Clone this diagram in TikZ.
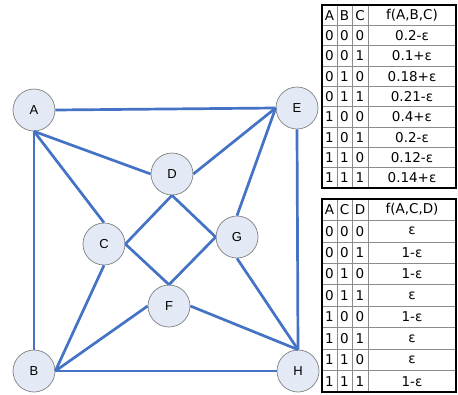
\documentclass[tikz,border=0pt]{standalone}
\usepackage{fontspec}
\setmainfont{DejaVu Sans}
\newfontfamily\vertfont{Liberation Sans}
\definecolor{edgeblue}{HTML}{4472C4}
\definecolor{vertfill}{HTML}{E4EAF5}
\definecolor{vertline}{HTML}{7F7F7F}
\definecolor{gridgray}{HTML}{8C8C8C}
\begin{document}
\begin{tikzpicture}[x=1pt,y=-1pt,
  vert/.style={circle,draw=vertline,line width=0.7pt,fill=vertfill,
    minimum size=42pt,inner sep=0pt,font=\vertfont\fontsize{13}{13}\selectfont},
  link/.style={draw=edgeblue,line width=2.7pt},
  cell/.style={font=\fontsize{13.5}{13.5}\selectfont,inner sep=0pt,anchor=center},
  grid/.style={draw=gridgray,line width=0.6pt},
  frame/.style={draw=black,line width=1.1pt}]
\useasboundingbox (0,0) rectangle (458,394);

% vertices
\node[vert] (A) at (34,110) {A};
\node[vert] (E) at (297,108) {E};
\node[vert] (D) at (172,174) {D};
\node[vert] (C) at (104,244) {C};
\node[vert] (G) at (237,237) {G};
\node[vert] (F) at (169,306) {F};
\node[vert] (B) at (34,371) {B};
\node[vert] (H) at (298,371) {H};

% edges
\draw[link] (A.east) -- (E.west);
\draw[link] (A.south) -- (D.west);
\draw[link] (A.south) -- (C.north);
\draw[link] (A.south) -- (B.north);
\draw[link] (E.west) -- (D.east);
\draw[link] (E.west) -- (G.north);
\draw[link] (E.south) -- (H.north);
\draw[link] (D.south) -- (C.east);
\draw[link] (D.south) -- (G.west);
\draw[link] (C.east) -- (F.north);
\draw[link] (C.south) -- (B.east);
\draw[link] (G.west) -- (F.north);
\draw[link] (G.south) -- (H.north);
\draw[link] (F.west) -- (B.east);
\draw[link] (F.east) -- (H.north);
\draw[link] (B.east) -- (H.west);

% column centres
\def\ca{329.5}\def\cb{344.5}\def\cc{360}\def\cf{412}

% table f(A,B,C)
\begin{scope}
  \def\ytop{5}\def\rh{20.33}
  \foreach \k in {1,...,8} \draw[grid] (322,\ytop+\k*\rh) -- (456,\ytop+\k*\rh);
  \foreach \xx in {337,352,368} \draw[grid] (\xx,\ytop) -- (\xx,\ytop+9*\rh);
  \draw[frame] (322,\ytop) rectangle (456,\ytop+9*\rh);
  \node[cell] (t1ha) at (\ca,\ytop+0.5*\rh) {A};
  \node[cell] (t1hb) at (\cb,\ytop+0.5*\rh) {B};
  \node[cell] (t1hc) at (\cc,\ytop+0.5*\rh) {C};
  \node[cell] (t1hf) at (\cf,\ytop+0.5*\rh) {f(A,B,C)};
  \foreach \a/\b/\c/\f [count=\i] in {0/0/0/{0.2-ε},0/0/1/{0.1+ε},0/1/0/{0.18+ε},
      0/1/1/{0.21-ε},1/0/0/{0.4+ε},1/0/1/{0.2-ε},1/1/0/{0.12-ε},1/1/1/{0.14+ε}}{
    \node[cell] (t1a\i) at (\ca,\ytop+\i*\rh+0.5*\rh) {\a};
    \node[cell] (t1b\i) at (\cb,\ytop+\i*\rh+0.5*\rh) {\b};
    \node[cell] (t1c\i) at (\cc,\ytop+\i*\rh+0.5*\rh) {\c};
    \node[cell] (t1f\i) at (\cf,\ytop+\i*\rh+0.5*\rh) {\f};
  }
\end{scope}

% table f(A,C,D)
\begin{scope}
  \def\ytop{199}\def\rh{21.44}
  \foreach \k in {1,...,8} \draw[grid] (322,\ytop+\k*\rh) -- (456,\ytop+\k*\rh);
  \foreach \xx in {337,352,368} \draw[grid] (\xx,\ytop) -- (\xx,\ytop+9*\rh);
  \draw[frame] (322,\ytop) rectangle (456,\ytop+9*\rh);
  \node[cell] (t2ha) at (\ca,\ytop+0.5*\rh) {A};
  \node[cell] (t2hc) at (\cb,\ytop+0.5*\rh) {C};
  \node[cell] (t2hd) at (\cc,\ytop+0.5*\rh) {D};
  \node[cell] (t2hf) at (\cf,\ytop+0.5*\rh) {f(A,C,D)};
  \foreach \a/\c/\d/\f [count=\i] in {0/0/0/ε,0/0/1/{1-ε},0/1/0/{1-ε},0/1/1/ε,
      1/0/0/{1-ε},1/0/1/ε,1/1/0/ε,1/1/1/{1-ε}}{
    \node[cell] (t2a\i) at (\ca,\ytop+\i*\rh+0.5*\rh) {\a};
    \node[cell] (t2c\i) at (\cb,\ytop+\i*\rh+0.5*\rh) {\c};
    \node[cell] (t2d\i) at (\cc,\ytop+\i*\rh+0.5*\rh) {\d};
    \node[cell] (t2f\i) at (\cf,\ytop+\i*\rh+0.5*\rh) {\f};
  }
\end{scope}
\end{tikzpicture}
\end{document}
